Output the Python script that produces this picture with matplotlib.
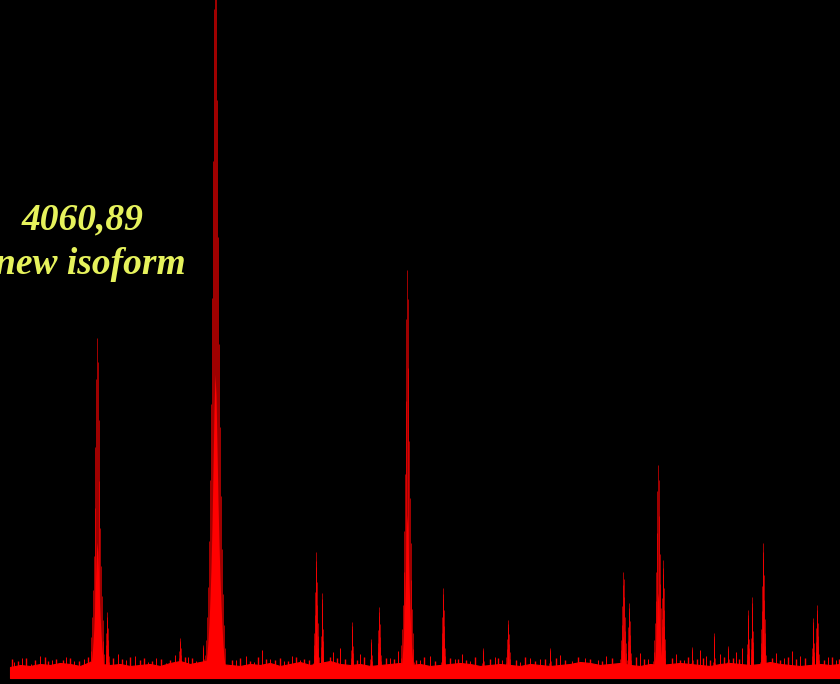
import numpy as np
import matplotlib
matplotlib.use("Agg")
import matplotlib.pyplot as plt

# peak centres (position units) and heights (intensity units)
peak_pos = [97, 107, 180, 203, 215, 316, 322, 352, 371, 379, 407, 443, 483,
            508, 550, 623, 629, 658, 663, 692, 714, 728, 748, 752, 763, 813, 817]
peak_height = [340, 66, 40, 33, 760, 126, 85, 56, 39, 71, 408, 90, 30,
               58, 30, 106, 75, 213, 118, 31, 45, 32, 68, 81, 135, 60, 73]
peak_width = [8, 3, 3, 2, 10, 4, 2, 2, 2, 3, 7, 3, 2,
              4, 2, 5, 3, 6, 3, 2, 1.5, 2, 2, 2, 4, 2, 3]

# relative shape of one peak
profile = [0.03, 0.05, 0.08, 0.12, 0.18, 0.26, 0.36, 0.5, 0.68, 0.88, 1.0,
           0.93, 0.76, 0.58, 0.44, 0.33, 0.24, 0.17, 0.11, 0.07, 0.04]

# noise floor, every 10 units from 10 to 840
floor_x = list(range(10, 841, 10))
floor_y = [11, 13, 12, 14, 13, 15, 14, 12, 16, 14, 13, 14, 12, 13, 14, 12, 15, 17,
           14, 16, 18, 14, 13, 12, 14, 13, 15, 12, 14, 16, 13, 15, 17, 14, 13, 14,
           12, 13, 14, 15, 13, 14, 12, 13, 14, 15, 14, 12, 13, 14, 13, 12, 14, 13,
           12, 13, 14, 16, 15, 13, 14, 15, 13, 12, 14, 13, 14, 15, 14, 13, 12, 14,
           15, 14, 13, 14, 16, 14, 13, 12, 13, 14, 13, 14]

# small spikes sticking out of the noise
grass_x = [14, 22, 31, 40, 52, 60, 66, 74, 84, 118, 126, 135, 148, 156, 166, 175,
           188, 196, 236, 246, 254, 262, 270, 284, 292, 300, 333, 340, 360, 390, 398,
           420, 430, 455, 462, 470, 495, 502, 520, 530, 540, 560, 572, 585, 598, 606,
           640, 648, 676, 684, 700, 706, 720, 736, 742, 776, 784, 792, 800, 828, 836]
grass_h = [16, 20, 14, 22, 18, 15, 21, 17, 19, 24, 18, 22, 16, 20, 15, 23,
           21, 17, 18, 22, 16, 28, 19, 17, 22, 18, 26, 30, 24, 20, 27,
           18, 22, 19, 24, 17, 21, 18, 16, 20, 19, 23, 17, 20, 18, 22,
           25, 19, 24, 18, 28, 22, 24, 26, 30, 25, 20, 27, 22, 21, 18]

# denser, lower fuzz on top of the floor
fuzz_x = [12, 18, 26, 35, 45, 48, 56, 63, 70, 79, 88, 113, 122, 130, 140, 144, 152,
          161, 170, 185, 192, 232, 240, 250, 258, 266, 275, 280, 288, 296, 304, 309,
          330, 337, 345, 357, 364, 386, 394, 416, 424, 435, 450, 458, 466, 475, 490,
          498, 516, 525, 535, 545, 556, 565, 578, 590, 602, 612, 636, 644, 672, 680,
          688, 697, 703, 710, 724, 733, 739, 772, 780, 788, 796, 805, 824, 832, 839]
fuzz_h = [19, 17, 20, 18, 21, 17, 19, 18, 20, 17, 21, 20, 19, 21, 18, 20, 17,
          19, 18, 21, 20, 18, 20, 17, 21, 19, 18, 20, 17, 21, 19, 18,
          21, 20, 19, 18, 21, 20, 19, 18, 21, 17, 20, 19, 18, 21, 19,
          20, 18, 21, 17, 19, 20, 18, 21, 19, 17, 20, 21, 19, 20, 18,
          21, 19, 20, 18, 21, 20, 19, 20, 18, 21, 19, 20, 18, 21, 19]

label_lines = ["4060,89", "new isoform"]

fig = plt.figure(figsize=(8.4, 6.84), dpi=100, facecolor="black")
ax = fig.add_axes([0, 0, 1, 1])
ax.set_facecolor("black")

red = "#ff0000"

ax.fill_between(floor_x, 0, floor_y, color=red, lw=0.8)
ax.vlines(fuzz_x, 0, fuzz_h, color=red, lw=1.0)
ax.vlines(grass_x, 0, grass_h, color=red, lw=0.7)

rel = np.array(profile)
for c, h, w in zip(peak_pos, peak_height, peak_width):
    offs = np.linspace(-w, w, len(rel)) + c
    ax.vlines(offs, 0, h * rel, color=red, lw=0.45)
    ax.fill_between(offs, 0, h * rel * 0.4, color=red, lw=0)

ax.text(83, 458, label_lines[0], color="#e6f25c", fontsize=27, family="Liberation Serif",
        style="italic", weight="bold", ha="center", va="center")
ax.text(90, 413, label_lines[1], color="#e6f25c", fontsize=27, family="Liberation Serif",
        style="italic", weight="bold", ha="center", va="center")

ax.set_xlim(0, 840)
ax.set_ylim(-6, 678)
ax.axis("off")

fig.savefig("out.png", dpi=100, facecolor="black")
